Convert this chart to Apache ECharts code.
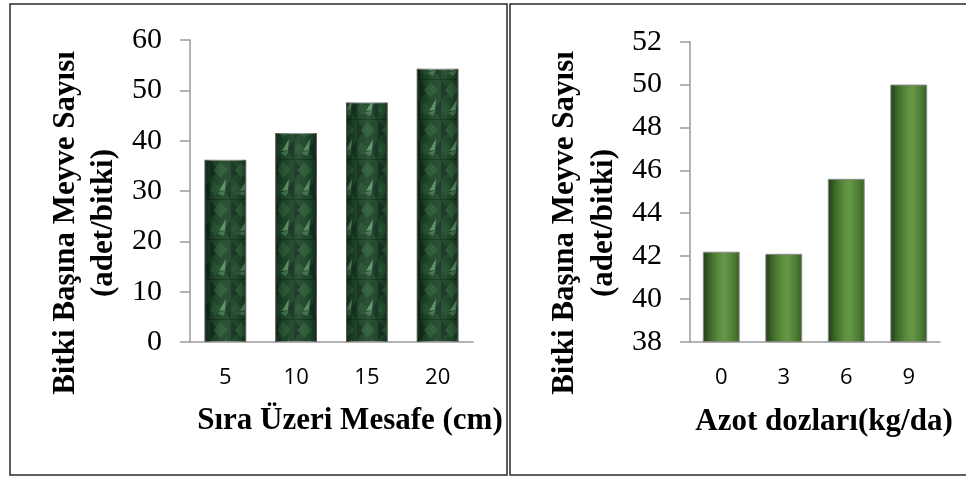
<!DOCTYPE html>
<html>
<head>
<meta charset="utf-8">
<script src="https://cdn.jsdelivr.net/npm/echarts@6/dist/echarts.min.js"></script>
<style>
  html, body { margin: 0; padding: 0; background: #ffffff; }
  #chart { width: 966px; height: 477px; }
</style>
</head>
<body>
<div id="chart"></div>
<script>
// Left panel: in-row spacing
const spacingCats = ['5', '10', '15', '20'];
const spacingFruit = [36.2, 41.5, 47.6, 54.3];
const spacingTicks = { min: 0, max: 60, interval: 10 };

// Right panel: nitrogen doses
const nitrogenCats = ['0', '3', '6', '9'];
const nitrogenFruit = [42.2, 42.1, 45.6, 50.0];
const nitrogenTicks = { min: 38, max: 52, interval: 2 };

const yTitle = ['Bitki Başına Meyve Sayısı', '(adet/bitki)'];
const xTitleLeft = 'Sıra Üzeri Mesafe (cm)';
const xTitleRight = 'Azot dozları(kg/da)';

// Dark green leaf texture tile for the left bars
function makeLeafTile() {
  const c = document.createElement('canvas');
  c.width = 21; c.height = 40;
  const g = c.getContext('2d');
  g.fillStyle = '#1e4628';
  g.fillRect(0, 0, 21, 40);
  // darker mottling
  g.fillStyle = '#143420';
  g.beginPath(); g.moveTo(0, 0); g.lineTo(8, 10); g.lineTo(0, 20); g.closePath(); g.fill();
  g.beginPath(); g.moveTo(21, 20); g.lineTo(14, 30); g.lineTo(21, 40); g.closePath(); g.fill();
  g.fillStyle = '#2b5b36';
  g.beginPath(); g.moveTo(10, 2); g.lineTo(18, 10); g.lineTo(10, 18); g.lineTo(4, 10); g.closePath(); g.fill();
  g.fillStyle = '#265332';
  g.beginPath(); g.moveTo(4, 22); g.lineTo(11, 28); g.lineTo(5, 36); g.lineTo(0, 30); g.closePath(); g.fill();
  // light leaf streak
  g.fillStyle = '#5c9266';
  g.beginPath(); g.moveTo(9, 31); g.lineTo(16, 19); g.lineTo(15, 30); g.closePath(); g.fill();
  g.fillStyle = '#40764a';
  g.beginPath(); g.moveTo(7, 33); g.lineTo(16, 30); g.lineTo(13, 36); g.closePath(); g.fill();
  // faint seam between tiles
  g.fillStyle = 'rgba(10,30,15,0.5)';
  g.fillRect(0, 39, 21, 1);
  return c;
}

const leafPattern = { image: makeLeafTile(), repeat: 'repeat' };

const edgeShade = {
  type: 'linear', x: 0, y: 0, x2: 1, y2: 0,
  colorStops: [
    { offset: 0, color: 'rgba(0,0,0,0.45)' },
    { offset: 0.18, color: 'rgba(0,0,0,0.1)' },
    { offset: 0.55, color: 'rgba(255,255,255,0.06)' },
    { offset: 0.85, color: 'rgba(0,0,0,0.08)' },
    { offset: 1, color: 'rgba(0,0,0,0.35)' }
  ]
};

const greenTube = {
  type: 'linear', x: 0, y: 0, x2: 1, y2: 0,
  colorStops: [
    { offset: 0, color: '#22391a' },
    { offset: 0.2, color: '#3f6a28' },
    { offset: 0.45, color: '#5c8e3e' },
    { offset: 0.6, color: '#669748' },
    { offset: 0.85, color: '#4b7a30' },
    { offset: 1, color: '#385d24' }
  ]
};

const serif = '"Liberation Serif", "Times New Roman", serif';
const sans = '"Open Sans", "Liberation Sans", sans-serif';

function valueAxis(idx, t) {
  return {
    type: 'value', gridIndex: idx,
    min: t.min, max: t.max, interval: t.interval,
    axisLine: { show: true, lineStyle: { color: '#9a9a9a', width: 1.5 } },
    axisTick: { show: true, length: 10, lineStyle: { color: '#9a9a9a', width: 1.5 } },
    splitLine: { show: false },
    axisLabel: { color: '#000', fontFamily: serif, fontSize: 30, margin: 28 }
  };
}

function catAxis(idx, cats) {
  return {
    type: 'category', gridIndex: idx, data: cats,
    axisLine: { show: true, lineStyle: { color: '#9a9a9a', width: 1.5 } },
    axisTick: { show: false },
    axisLabel: { color: '#000', fontFamily: sans, fontSize: 22, margin: 25 }
  };
}

function yTitleText(cx1, cx2, cy) {
  return [
    { type: 'text', x: cx1, y: cy, rotation: Math.PI / 2,
      style: { text: yTitle[0], font: 'bold 31px ' + serif, fill: '#000', align: 'center', verticalAlign: 'middle' } },
    { type: 'text', x: cx2, y: cy, rotation: Math.PI / 2,
      style: { text: yTitle[1], font: 'bold 31px ' + serif, fill: '#000', align: 'center', verticalAlign: 'middle' } }
  ];
}

const chart = echarts.init(document.getElementById('chart'), null, { renderer: 'canvas' });

chart.setOption({
  backgroundColor: '#ffffff',
  animation: false,
  grid: [
    { left: 190, top: 40, width: 283, height: 302 },
    { left: 690, top: 41.7, width: 250, height: 300 }
  ],
  xAxis: [catAxis(0, spacingCats), catAxis(1, nitrogenCats)],
  yAxis: [valueAxis(0, spacingTicks), valueAxis(1, nitrogenTicks)],
  series: [
    {
      type: 'bar', xAxisIndex: 0, yAxisIndex: 0, data: spacingFruit,
      barCategoryGap: '41%', barGap: '-100%',
      itemStyle: { color: leafPattern, borderColor: '#8f8f8f', borderWidth: 1 }
    },
    {
      type: 'bar', xAxisIndex: 0, yAxisIndex: 0, data: spacingFruit,
      barCategoryGap: '41%', barGap: '-100%', silent: true,
      itemStyle: { color: edgeShade }
    },
    {
      type: 'bar', xAxisIndex: 1, yAxisIndex: 1, data: nitrogenFruit,
      barCategoryGap: '41%',
      itemStyle: { color: greenTube, borderColor: '#8a8a8a', borderWidth: 1 }
    }
  ],
  graphic: [
    // panel frames
    { type: 'rect', shape: { x: 10, y: 4, width: 497, height: 471 },
      style: { fill: 'none', stroke: '#2a2a2a', lineWidth: 1.5 } },
    { type: 'rect', shape: { x: 510, y: 4, width: 470, height: 471 },
      style: { fill: 'none', stroke: '#2a2a2a', lineWidth: 1.5 } },
    ...yTitleText(66, 104, 223),
    ...yTitleText(565, 604, 223),
    { type: 'text', x: 350, y: 421,
      style: { text: xTitleLeft, font: 'bold 31px ' + serif, fill: '#000', align: 'center', verticalAlign: 'middle' } },
    { type: 'text', x: 824, y: 422,
      style: { text: xTitleRight, font: 'bold 31px ' + serif, fill: '#000', align: 'center', verticalAlign: 'middle' } }
  ]
});
</script>
</body>
</html>
